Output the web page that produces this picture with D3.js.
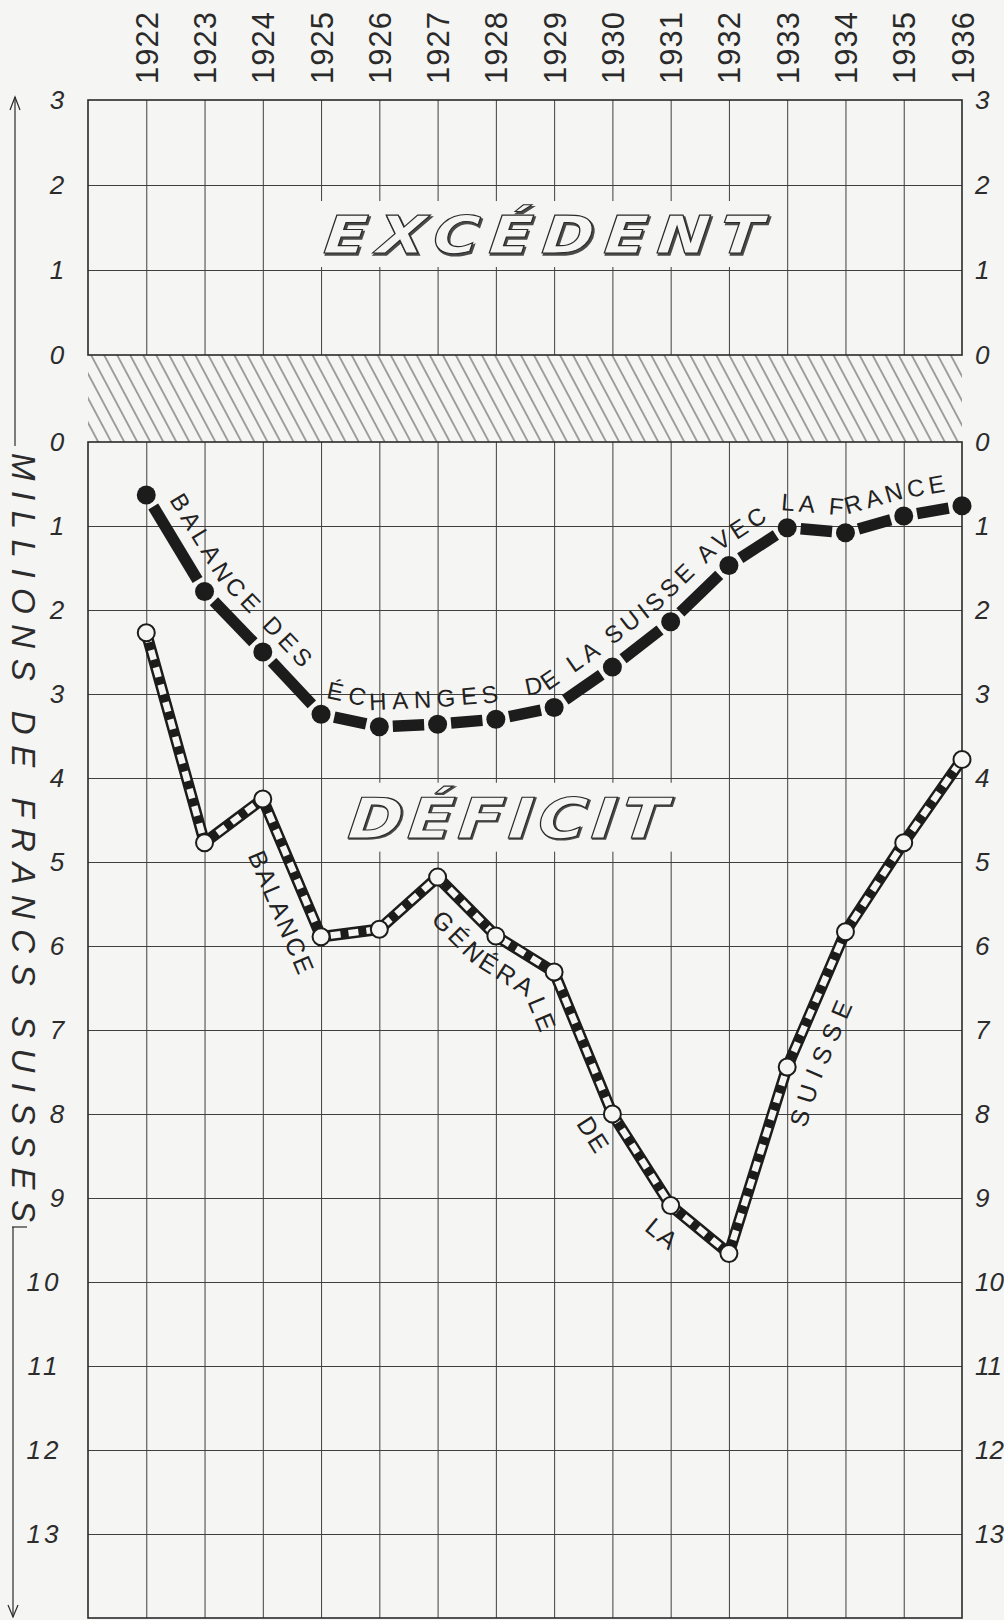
<!DOCTYPE html>
<html lang="fr"><head><meta charset="utf-8"><title>Balance commerciale de la Suisse</title>
<script src="https://cdn.jsdelivr.net/npm/d3@7/dist/d3.min.js"></script>
<style>html,body{margin:0;padding:0;background:#f5f5f3}svg{display:block}</style>
</head><body>
<svg id="chart" width="1004" height="1620"></svg>
<script>
// ---------------- data ----------------
const years = [1922,1923,1924,1925,1926,1927,1928,1929,1930,1931,1932,1933,1934,1935,1936];
const franceDeficit  = [0.63,1.78,2.50,3.24,3.39,3.36,3.30,3.16,2.68,2.14,1.47,1.02,1.08,0.88,0.76];
const generalDeficit = [2.27,4.77,4.25,5.89,5.80,5.18,5.88,6.31,8.00,9.09,9.66,7.44,5.83,4.77,3.78];
const surplusTicks = [0,1,2,3];
const deficitTicks = [0,1,2,3,4,5,6,7,8,9,10,11,12,13];
const axisTitle = "MILLIONS DE FRANCS SUISSES";
const surplusTitle = "EXCÉDENT";
const deficitTitle = "DÉFICIT";
const franceLabels = ["BALANCE DES", "ÉCHANGES", "DE LA SUISSE AVEC LA FRANCE"];
const generalLabels = ["BALANCE", "GÉNÉRALE", "DE", "LA", "SUISSE"];
// label anchors along the curves, in data units [year, millions]
const franceLabelSpans = [[[1922.34,0.71],[1924.66,2.70]], [[1924.95,3.12],[1928.07,3.15]],
                          [[1928.52,3.02],[1935.71,0.55]]];
const generalLabelSpans = [[[1923.52,4.71],[1924.45,6.40]], [[1926.59,5.63],[1928.55,7.10]],
                           [[1929.13,8.18],null], [[1930.40,9.48],null], [[1933.22,8.15],[1934.12,6.70]]];

// ---------------- setup ----------------
const W = 1004, H = 1620;
const bg = "#f5f5f3", ink = "#222222", gridInk = "#3f3f3f";
const sans = "'Liberation Sans', Arial, sans-serif";
const svg = d3.select("#chart");
const x = d3.scaleLinear().domain([1921, 1936]).range([88, 962]);
const yUp = d3.scaleLinear().domain([0, 3]).range([355, 100]);
const yDn = d3.scaleLinear().domain([0, 14]).range([442, 1618]);
const x0 = x.range()[0], x1 = x.range()[1];

svg.append("rect").attr("width", W).attr("height", H).attr("fill", bg);

const defs = svg.append("defs");
const hatch = defs.append("pattern").attr("id", "hatch").attr("patternUnits", "userSpaceOnUse")
  .attr("width", 11.5).attr("height", 20).attr("patternTransform", "rotate(-28)");
hatch.append("line").attr("x1", 5.75).attr("x2", 5.75).attr("y1", -2).attr("y2", 22)
  .attr("stroke", "#4a4a4a").attr("stroke-width", 1);

svg.append("rect").attr("x", x0).attr("y", yUp(0)).attr("width", x1 - x0)
  .attr("height", yDn(0) - yUp(0)).attr("fill", "url(#hatch)");

// ---------------- grid ----------------
function grid(yScale, ticksY, yTop, yBot) {
  const g = svg.append("g");
  g.append("g").attr("transform", `translate(0,${yBot})`)
    .call(d3.axisBottom(x).tickValues(years.slice(0, -1)).tickSize(-(yBot - yTop)).tickFormat(""))
    .call(s => s.select(".domain").remove())
    .selectAll("line").attr("stroke", gridInk).attr("stroke-width", 1);
  g.append("g").attr("transform", `translate(${x0},0)`)
    .call(d3.axisLeft(yScale).tickValues(ticksY).tickSize(-(x1 - x0)).tickFormat(""))
    .call(s => s.select(".domain").remove())
    .selectAll("line").attr("stroke", gridInk).attr("stroke-width", 1);
  g.append("rect").attr("x", x0).attr("y", yTop).attr("width", x1 - x0).attr("height", yBot - yTop)
    .attr("fill", "none").attr("stroke", "#2a2a2a").attr("stroke-width", 1.6);
}
grid(yUp, surplusTicks.slice(1, -1), yUp(3), yUp(0));
grid(yDn, deficitTicks.slice(1), yDn(0), yDn(14));

// ---------------- outlined titles ----------------
function outlinedTitle(txt, xa, xb, baseY, fs, sx) {
  const font = "'DejaVu Sans', sans-serif";
  const tmp = svg.append("text").attr("font-family", font).attr("font-weight", "bold")
    .attr("font-style", "italic").attr("font-size", fs).text(txt);
  const nat = tmp.node().getComputedTextLength(); tmp.remove();
  const ls = ((xb - xa) / sx - nat) / (txt.length - 1);
  const cap = fs * 0.73;
  svg.append("rect").attr("x", xa - 14).attr("y", baseY - cap - 14).attr("width", xb - xa + 26)
    .attr("height", cap + 28).attr("fill", bg);
  const g = svg.append("g").attr("transform", `translate(${xa},${baseY}) skewX(-6) scale(${sx},1)`)
    .attr("font-family", font).attr("font-weight", "bold")
    .attr("font-style", "italic").attr("font-size", fs).attr("letter-spacing", ls);
  g.append("text").attr("x", 1.3).attr("y", 1.6).attr("fill", "#4a4a4a")
    .attr("stroke", "#4a4a4a").attr("stroke-width", 1.8).attr("vector-effect", "non-scaling-stroke").text(txt);
  g.append("text").attr("x", 0).attr("y", 0).attr("fill", bg)
    .attr("stroke", "#2a2a2a").attr("stroke-width", 1.2).attr("vector-effect", "non-scaling-stroke").text(txt);
}
outlinedTitle(surplusTitle, x(1925.03), x(1932.55), yUp(1.2), 52, 1.2);
outlinedTitle(deficitTitle, x(1925.44), x(1930.9), yDn(4.71), 56, 1.18);

// ---------------- tick labels ----------------
function tickLabels(scale, ticks) {
  const g = svg.append("g").attr("font-family", sans).attr("font-style", "italic")
    .attr("font-size", 26).attr("fill", "#2c2c2c");
  g.selectAll(".l").data(ticks).join("text")
    .attr("x", d => d >= 10 ? 44 : 57).attr("y", d => scale(d)).attr("dy", "0.36em")
    .attr("text-anchor", "middle").attr("letter-spacing", d => d >= 10 ? 3 : 0).text(d => d);
  g.selectAll(".r").data(ticks).join("text")
    .attr("x", 975).attr("y", d => scale(d)).attr("dy", "0.36em")
    .attr("text-anchor", "start").text(d => d);
}
tickLabels(yUp, surplusTicks);
tickLabels(yDn, deficitTicks);

// year labels (rotated)
svg.append("g").attr("font-family", sans).attr("font-size", 31).attr("fill", "#2a2a2a")
  .attr("letter-spacing", 1)
  .selectAll("text").data(years).join("text")
  .attr("transform", d => `translate(${x(d) + 11.5},84) rotate(-90)`).text(d => d);

// ---------------- vertical axis title with arrows ----------------
const axG = svg.append("g").attr("stroke", "#2a2a2a").attr("stroke-width", 1.2).attr("fill", "none");
axG.append("line").attr("x1", 15).attr("x2", 15).attr("y1", 97).attr("y2", 446);
axG.append("path").attr("d", "M10,110 L15,97 L20,110");
axG.append("line").attr("x1", 13).attr("x2", 13).attr("y1", 1227).attr("y2", 1617);
axG.append("line").attr("x1", 12).attr("x2", 27).attr("y1", 1227).attr("y2", 1227);
axG.append("path").attr("d", "M8,1605 L13,1617 L18,1605");
{
  const fs = 33;
  const tmp = svg.append("text").attr("font-family", sans).attr("font-style", "italic").attr("font-size", fs).text(axisTitle);
  const nat = tmp.node().getComputedTextLength(); tmp.remove();
  const ls = (1222 - 453 - nat) / (axisTitle.length - 1);
  svg.append("text").attr("transform", "translate(12,453) rotate(90)")
    .attr("font-family", sans).attr("font-style", "italic").attr("font-size", fs)
    .attr("letter-spacing", ls).attr("fill", "#2c2c2c").text(axisTitle);
}

// ---------------- series ----------------
const fPts = years.map((yr, i) => [x(yr), yDn(franceDeficit[i])]);
const gPts = years.map((yr, i) => [x(yr), yDn(generalDeficit[i])]);

// general balance : black outline with white dashes, open circles
svg.append("path").attr("d", d3.line()(gPts)).attr("fill", "none").attr("stroke", "#1c1c1c")
  .attr("stroke-width", 11.5).attr("stroke-linejoin", "round");
svg.append("path").attr("d", d3.line()(gPts)).attr("fill", "none").attr("stroke", bg)
  .attr("stroke-width", 6.5).attr("stroke-dasharray", "10 8").attr("stroke-linejoin", "round");
svg.append("g").selectAll("circle").data(gPts).join("circle")
  .attr("cx", d => d[0]).attr("cy", d => d[1]).attr("r", 8.5)
  .attr("fill", bg).attr("stroke", "#1c1c1c").attr("stroke-width", 2);

// France balance : one thick dash per interval, black dots
const gap = 13.5;
svg.append("g").selectAll("line").data(d3.pairs(fPts)).join("line")
  .each(function ([a, b]) {
    const L = Math.hypot(b[0] - a[0], b[1] - a[1]), ux = (b[0] - a[0]) / L, uy = (b[1] - a[1]) / L;
    d3.select(this).attr("x1", a[0] + ux * gap).attr("y1", a[1] + uy * gap)
      .attr("x2", b[0] - ux * gap).attr("y2", b[1] - uy * gap);
  })
  .attr("stroke", "#1c1c1c").attr("stroke-width", 11.5);
svg.append("g").selectAll("circle").data(fPts).join("circle")
  .attr("cx", d => d[0]).attr("cy", d => d[1]).attr("r", 9.5).attr("fill", "#1c1c1c");

// ---------------- curved labels ----------------
// guide line parallel to a series, mitred at the joints
function offsetPath(pts, d) {
  const segs = [];
  for (let i = 0; i < pts.length - 1; i++) {
    const [ax, ay] = pts[i], [bx, by] = pts[i + 1];
    const L = Math.hypot(bx - ax, by - ay), ux = (bx - ax) / L, uy = (by - ay) / L;
    segs.push({ a: [ax + uy * d, ay - ux * d], b: [bx + uy * d, by - ux * d], u: [ux, uy] });
  }
  const out = [segs[0].a];
  for (let i = 1; i < segs.length; i++) {
    const s0 = segs[i - 1], s1 = segs[i], v = pts[i];
    const cross = s0.u[0] * s1.u[1] - s0.u[1] * s1.u[0];
    let p = null;
    if (Math.abs(cross) > 1e-6) {
      const dx = s1.a[0] - s0.a[0], dy = s1.a[1] - s0.a[1];
      const t = (dx * s1.u[1] - dy * s1.u[0]) / cross;
      p = [s0.a[0] + t * s0.u[0], s0.a[1] + t * s0.u[1]];
    }
    if (p && Math.hypot(p[0] - v[0], p[1] - v[1]) <= 3 * Math.abs(d)) out.push(p);
    else { out.push(s0.b); out.push(s1.a); }
  }
  out.push(segs[segs.length - 1].b);
  return out;
}
function closestLength(node, p) {
  const L = node.getTotalLength(); let best = 0, bd = Infinity;
  for (let s = 0; s <= L; s += 1) {
    const q = node.getPointAtLength(s);
    const dd = (q.x - p[0]) ** 2 + (q.y - p[1]) ** 2;
    if (dd < bd) { bd = dd; best = s; }
  }
  return best;
}
function guide(id, pts, d) {
  return defs.append("path").attr("id", id).attr("d", d3.line()(offsetPath(pts, d))).node();
}
function pathText(id, node, txt, span, fs) {
  const toPx = v => [x(v[0]), yDn(v[1])];
  const s0 = closestLength(node, toPx(span[0]));
  const tmp = svg.append("text").attr("font-family", sans).attr("font-size", fs).text(txt);
  const nat = tmp.node().getComputedTextLength(); tmp.remove();
  let ls = 2;
  if (span[1]) ls = Math.max(0, (closestLength(node, toPx(span[1])) - s0 - nat) / (txt.length - 1));
  svg.append("text").attr("font-family", sans).attr("font-size", fs).attr("fill", ink)
    .attr("letter-spacing", ls)
    .append("textPath").attr("href", "#" + id).attr("startOffset", s0).text(txt);
}
const fGuide = guide("fGuide", fPts, 17);
franceLabels.forEach((t, i) => pathText("fGuide", fGuide, t, franceLabelSpans[i], 24));
const gGuide = guide("gGuide", gPts, -36);
generalLabels.forEach((t, i) => pathText("gGuide", gGuide, t, generalLabelSpans[i], 25));
</script>
</body></html>
